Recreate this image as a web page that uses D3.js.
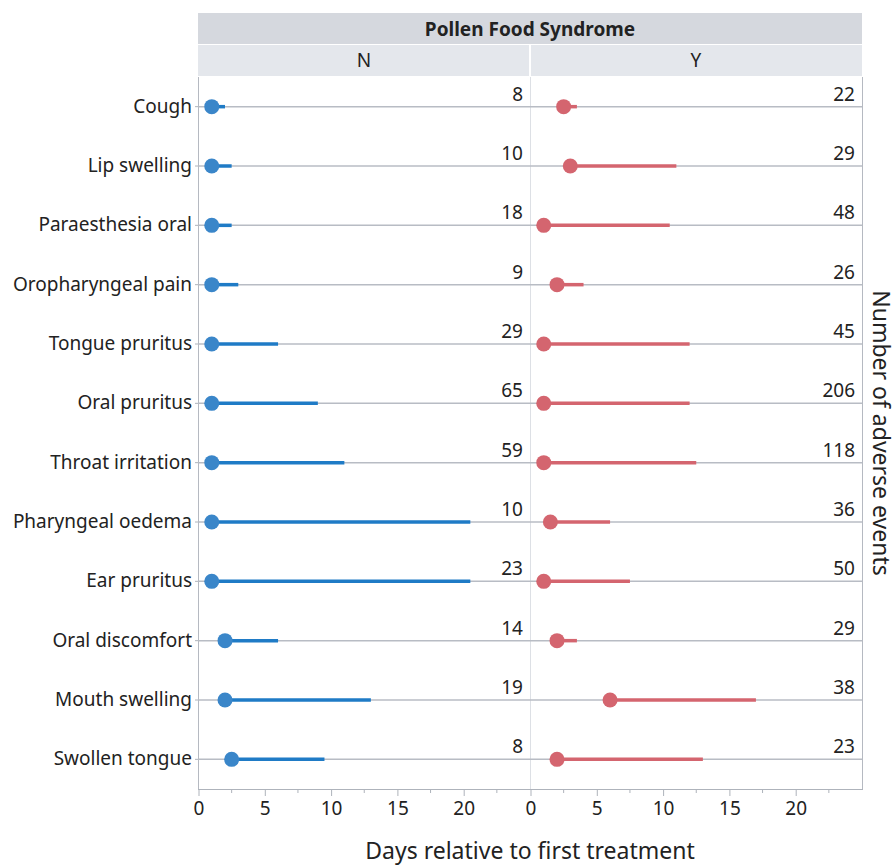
<!DOCTYPE html>
<html lang="en">
<head>
    <meta charset="UTF-8">
    <style>
        body { margin: 0; background: #fff; }
        text { font-family: "Noto Sans", "Open Sans", sans-serif; fill: #222; }
        .tick line, .domain { stroke: #aeb3bb; }
    </style>
    <script src="https://d3js.org/d3.v7.min.js"></script>
    <title>Pollen Food Syndrome</title>
</head>
<body>
    <svg width="893" height="866"></svg>
    <script>

        // data
        var symptoms = ["Cough", "Lip swelling", "Paraesthesia oral", "Oropharyngeal pain",
            "Tongue pruritus", "Oral pruritus", "Throat irritation", "Pharyngeal oedema",
            "Ear pruritus", "Oral discomfort", "Mouth swelling", "Swollen tongue"];
        var groups = ["N", "Y"];
        var nStart = [1, 1, 1, 1, 1, 1, 1, 1, 1, 2, 2, 2.5];
        var nEnd = [2, 2.5, 2.5, 3, 6, 9, 11, 20.5, 20.5, 6, 13, 9.5];
        var nCount = [8, 10, 18, 9, 29, 65, 59, 10, 23, 14, 19, 8];
        var yStart = [2.5, 3, 1, 2, 1, 1, 1, 1.5, 1, 2, 6, 2];
        var yEnd = [3.5, 11, 10.5, 4, 12, 12, 12.5, 6, 7.5, 3.5, 17, 13];
        var yCount = [22, 29, 48, 26, 45, 206, 118, 36, 50, 29, 38, 23];
        var xTicks = [0, 5, 10, 15, 20];
        var colors = { N: ["#3a86c9", "#1f7bc6"], Y: ["#d4656f", "#d4656f"] };

        var svg = d3.select("svg");
        var mLeft = 198, mRight = 862, mTop = 77, mBottom = 789;
        var panelW = (mRight - mLeft) / 2;

        var y = d3.scaleBand().domain(symptoms).range([mTop, mBottom]);

        // header bands
        svg.append("rect").attr("x", mLeft).attr("y", 13).attr("width", mRight - mLeft).attr("height", 31)
            .attr("fill", "#d5d8de");
        svg.append("text").attr("x", mLeft + panelW).attr("y", 36)
            .attr("text-anchor", "middle").style("font-size", "19px").style("font-weight", "bold")
            .text("Pollen Food Syndrome");

        var panels = groups.map(function(g, i) {
            return {
                name: g,
                x0: mLeft + i * panelW,
                start: i === 0 ? nStart : yStart,
                end: i === 0 ? nEnd : yEnd,
                count: i === 0 ? nCount : yCount,
                color: colors[g]
            };
        });

        panels.forEach(function(p, i) {
            var x = d3.scaleLinear().domain([0, 25]).range([p.x0 + 0.5, p.x0 + panelW]);

            svg.append("rect").attr("x", p.x0 + (i ? 1 : 0)).attr("y", 45)
                .attr("width", panelW - 1).attr("height", 31).attr("fill", "#e4e7ec");
            svg.append("text").attr("x", p.x0 + panelW / 2).attr("y", 67)
                .attr("text-anchor", "middle").style("font-size", "19px").text(p.name);

            // panel border
            svg.append("line").attr("x1", p.x0 + 0.5).attr("x2", p.x0 + 0.5)
                .attr("y1", mTop).attr("y2", mBottom).attr("stroke", i ? "#dde0e5" : "#b5b9c1");

            var g = svg.append("g");
            var rows = g.selectAll(".row").data(symptoms).enter().append("g").attr("class", "row");

            rows.append("line")
                .attr("x1", p.x0).attr("x2", p.x0 + panelW)
                .attr("y1", function(d) { return y(d) + y.bandwidth() / 2; })
                .attr("y2", function(d) { return y(d) + y.bandwidth() / 2; })
                .attr("stroke", "#b8bcc4").attr("stroke-width", 1.5);

            rows.append("line")
                .attr("x1", function(d, j) { return x(p.start[j]); })
                .attr("x2", function(d, j) { return x(p.end[j]); })
                .attr("y1", function(d) { return y(d) + y.bandwidth() / 2; })
                .attr("y2", function(d) { return y(d) + y.bandwidth() / 2; })
                .attr("stroke", p.color[1]).attr("stroke-width", 3.5);

            rows.append("circle")
                .attr("cx", function(d, j) { return x(p.start[j]); })
                .attr("cy", function(d) { return y(d) + y.bandwidth() / 2; })
                .attr("r", 7.5).attr("fill", p.color[0]);

            rows.append("text")
                .attr("x", p.x0 + panelW - 7)
                .attr("y", function(d) { return y(d) + y.bandwidth() / 2 - 6; })
                .attr("text-anchor", "end").style("font-size", "19px")
                .text(function(d, j) { return p.count[j]; });

            // x axis
            var ax = svg.append("g").attr("transform", "translate(0," + mBottom + ")")
                .call(d3.axisBottom(x).tickValues(xTicks).tickSize(7).tickPadding(6).tickSizeOuter(0));
            ax.select(".domain").remove();
            ax.selectAll("text").style("font-size", "19px").style("fill", "#222");
            svg.append("g").attr("transform", "translate(0," + mBottom + ")")
                .selectAll("line").data([2.5, 7.5, 12.5, 17.5, 22.5]).enter().append("line")
                .attr("x1", function(d) { return x(d); }).attr("x2", function(d) { return x(d); })
                .attr("y1", 0).attr("y2", 4).attr("stroke", "#aeb3bb");
        });

        // right border and bottom line
        svg.append("line").attr("x1", mRight + 0.5).attr("x2", mRight + 0.5)
            .attr("y1", mTop).attr("y2", mBottom).attr("stroke", "#b5b9c1");
        svg.append("line").attr("x1", mLeft).attr("x2", mRight + 1)
            .attr("y1", mBottom + 0.5).attr("y2", mBottom + 0.5).attr("stroke", "#aeb3bb");

        // y axis labels
        var ay = svg.append("g").attr("transform", "translate(" + mLeft + ",0)")
            .call(d3.axisLeft(y).tickSize(3).tickPadding(3));
        ay.select(".domain").remove();
        ay.selectAll("text").style("font-size", "19px").style("fill", "#222");

        svg.append("text").attr("x", mLeft + panelW).attr("y", 859)
            .attr("text-anchor", "middle").style("font-size", "23px")
            .text("Days relative to first treatment");

        svg.append("text").attr("transform", "translate(873," + ((mTop + mBottom) / 2) + ") rotate(90)")
            .attr("text-anchor", "middle").style("font-size", "23px")
            .text("Number of adverse events");

    </script>
</body>
</html>
